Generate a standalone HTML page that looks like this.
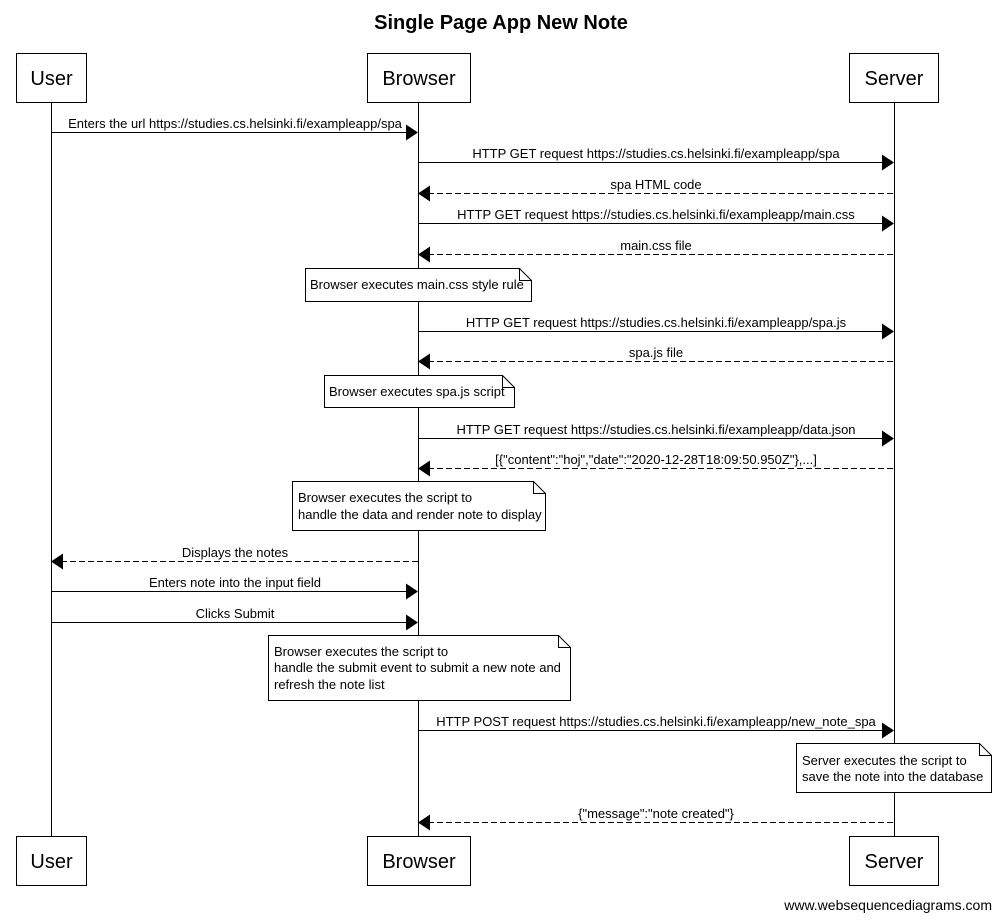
<!DOCTYPE html>
<html><head><meta charset="utf-8"><style>
html,body{margin:0;padding:0;background:#fff;}
svg{display:block;font-family:"Liberation Sans",Arial,sans-serif;}
.m{font-size:13px;text-anchor:middle;}
.n{font-size:13px;}
.a{font-size:20px;text-anchor:middle;}
</style></head><body>
<svg width="1001" height="920" viewBox="0 0 1001 920" xmlns="http://www.w3.org/2000/svg">
<rect width="1001" height="920" fill="#fff"/>
<text x="501" y="29" font-size="20" font-weight="bold" text-anchor="middle">Single Page App New Note</text>
<g stroke="#000" stroke-width="1" fill="none">
<line x1="51.5" y1="102" x2="51.5" y2="836"/>
<line x1="418.5" y1="102" x2="418.5" y2="836"/>
<line x1="894.5" y1="102" x2="894.5" y2="836"/>
</g>
<g stroke="#000" fill="#fff">
<rect x="16.5" y="53.5" width="70" height="49"/>
<rect x="367.5" y="53.5" width="103" height="49"/>
<rect x="849.5" y="53.5" width="89" height="49"/>
<rect x="16.5" y="836.5" width="70" height="49"/>
<rect x="367.5" y="836.5" width="103" height="49"/>
<rect x="849.5" y="836.5" width="89" height="49"/>
</g>
<g class="a">
<text x="51.5" y="85">User</text><text x="419" y="85">Browser</text><text x="894" y="85">Server</text>
<text x="51.5" y="868">User</text><text x="419" y="868">Browser</text><text x="894" y="868">Server</text>
</g>
<g stroke="#000" fill="none">
<line x1="51" y1="132.5" x2="408" y2="132.5"/>
<line x1="418" y1="162.5" x2="884" y2="162.5"/>
<line x1="428" y1="193.5" x2="894" y2="193.5" stroke-dasharray="6,3"/>
<line x1="418" y1="223.5" x2="884" y2="223.5"/>
<line x1="428" y1="254.5" x2="894" y2="254.5" stroke-dasharray="6,3"/>
<line x1="418" y1="331.5" x2="884" y2="331.5"/>
<line x1="428" y1="361.5" x2="894" y2="361.5" stroke-dasharray="6,3"/>
<line x1="418" y1="438.5" x2="884" y2="438.5"/>
<line x1="428" y1="468.5" x2="894" y2="468.5" stroke-dasharray="6,3"/>
<line x1="61" y1="561.5" x2="418" y2="561.5" stroke-dasharray="6,3"/>
<line x1="51" y1="591.5" x2="408" y2="591.5"/>
<line x1="51" y1="622.5" x2="408" y2="622.5"/>
<line x1="418" y1="730.5" x2="884" y2="730.5"/>
<line x1="428" y1="822.5" x2="894" y2="822.5" stroke-dasharray="6,3"/>
</g>
<g fill="#000">
<polygon points="406,124.5 418,132.5 406,140.5"/>
<polygon points="882,154.5 894,162.5 882,170.5"/>
<polygon points="430,185.5 418,193.5 430,201.5"/>
<polygon points="882,215.5 894,223.5 882,231.5"/>
<polygon points="430,246.5 418,254.5 430,262.5"/>
<polygon points="882,323.5 894,331.5 882,339.5"/>
<polygon points="430,353.5 418,361.5 430,369.5"/>
<polygon points="882,430.5 894,438.5 882,446.5"/>
<polygon points="430,460.5 418,468.5 430,476.5"/>
<polygon points="63,553.5 51,561.5 63,569.5"/>
<polygon points="406,583.5 418,591.5 406,599.5"/>
<polygon points="406,614.5 418,622.5 406,630.5"/>
<polygon points="882,722.5 894,730.5 882,738.5"/>
<polygon points="430,814.5 418,822.5 430,830.5"/>
</g>
<g class="m">
<text x="235" y="128">Enters the url https://studies.cs.helsinki.fi/exampleapp/spa</text>
<text x="656" y="158">HTTP GET request https://studies.cs.helsinki.fi/exampleapp/spa</text>
<text x="656" y="189">spa HTML code</text>
<text x="656" y="219">HTTP GET request https://studies.cs.helsinki.fi/exampleapp/main.css</text>
<text x="656" y="250">main.css file</text>
<text x="656" y="327">HTTP GET request https://studies.cs.helsinki.fi/exampleapp/spa.js</text>
<text x="656" y="357">spa.js file</text>
<text x="656" y="434">HTTP GET request https://studies.cs.helsinki.fi/exampleapp/data.json</text>
<text x="656" y="464">[{"content":"hoj","date":"2020-12-28T18:09:50.950Z"},...]</text>
<text x="235" y="557">Displays the notes</text>
<text x="235" y="587">Enters note into the input field</text>
<text x="235" y="618">Clicks Submit</text>
<text x="656" y="726">HTTP POST request https://studies.cs.helsinki.fi/exampleapp/new_note_spa</text>
<text x="656" y="818">{"message":"note created"}</text>
</g>
<g stroke="#000" fill="#fff">
<path d="M305.5,268.5 H519.5 L531.5,280.5 V301.5 H305.5 Z"/><path d="M519.5,268.5 V280.5 H531.5" fill="none"/>
<path d="M324.5,375.5 H502.5 L514.5,387.5 V407.5 H324.5 Z"/><path d="M502.5,375.5 V387.5 H514.5" fill="none"/>
<path d="M292.5,481.5 H533.5 L545.5,493.5 V530.5 H292.5 Z"/><path d="M533.5,481.5 V493.5 H545.5" fill="none"/>
<path d="M268.5,635.5 H558.5 L570.5,647.5 V700.5 H268.5 Z"/><path d="M558.5,635.5 V647.5 H570.5" fill="none"/>
<path d="M796.5,743.5 H979.5 L991.5,755.5 V792.5 H796.5 Z"/><path d="M979.5,743.5 V755.5 H991.5" fill="none"/>
</g>
<g class="n">
<text x="310" y="289">Browser executes main.css style rule</text>
<text x="329" y="396">Browser executes spa.js script</text>
<text x="298" y="502">Browser executes the script to</text>
<text x="298" y="519">handle the data and render note to display</text>
<text x="274" y="656">Browser executes the script to</text>
<text x="274" y="672">handle the submit event to submit a new note and</text>
<text x="274" y="689">refresh the note list</text>
<text x="802" y="765">Server executes the script to</text>
<text x="802" y="781">save the note into the database</text>
</g>
<text x="992" y="910" font-size="14" text-anchor="end">www.websequencediagrams.com</text>
</svg>
</body></html>
